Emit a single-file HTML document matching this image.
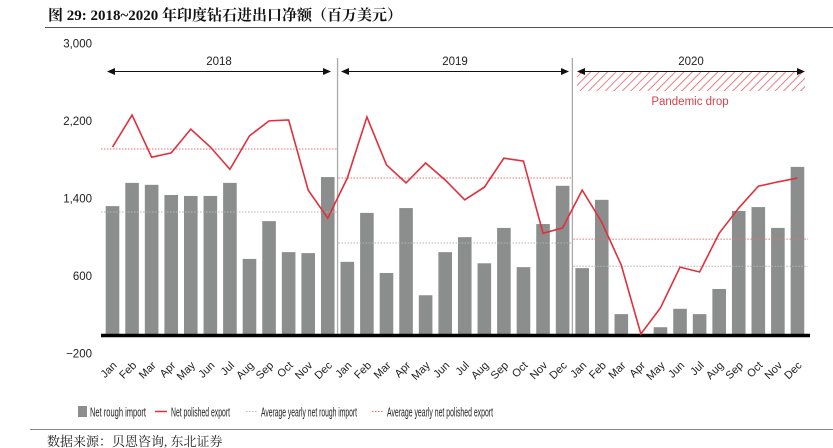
<!DOCTYPE html>
<html><head><meta charset="utf-8"><style>
body{margin:0;background:#fff;width:833px;height:448px;overflow:hidden}
svg{display:block;font-family:"Liberation Sans",Arial,sans-serif}
</style></head><body>
<svg id="c" width="833" height="448" viewBox="0 0 833 448">
<defs><pattern id="hatch" width="6" height="6" patternUnits="userSpaceOnUse" patternTransform="rotate(45)"><line x1="0" y1="0" x2="0" y2="6" stroke="#e3606a" stroke-width="1.6"/></pattern></defs>
<text x="48" y="20" font-family="'Liberation Serif','Noto Serif CJK SC',serif" font-weight="bold" font-size="15" fill="#111">图 29:  2018~2020 年印度钻石进出口净额（百万美元）</text>
<line x1="45" y1="27.5" x2="833" y2="27.5" stroke="#555" stroke-width="1"/>
<g id="plot"></g>
<g font-size="12.5" fill="#222">
<rect x="78" y="406" width="9" height="11" fill="#8c8d8d"/>
<text x="90" y="416.5" textLength="56" lengthAdjust="spacingAndGlyphs">Net rough import</text>
<line x1="155" y1="411.5" x2="167" y2="411.5" stroke="#e0303c" stroke-width="1.5"/>
<text x="171" y="416.5" textLength="59" lengthAdjust="spacingAndGlyphs">Net polished export</text>
<line x1="246" y1="411.5" x2="258" y2="411.5" stroke="#bbb" stroke-dasharray="1.5,1.5"/>
<text x="261" y="416.5" textLength="96" lengthAdjust="spacingAndGlyphs">Average yearly net rough import</text>
<line x1="372" y1="411.5" x2="384" y2="411.5" stroke="#e0606a" stroke-dasharray="1.5,1.5"/>
<text x="387" y="416.5" textLength="106" lengthAdjust="spacingAndGlyphs">Average yearly net polished export</text>
</g>
<line x1="30" y1="429.5" x2="833" y2="429.5" stroke="#888"/>
<text x="47" y="446" font-family="'Liberation Serif','Noto Serif CJK SC',serif" font-size="13" fill="#222">数据来源：贝恩咨询, 东北证券</text>
</svg>
<script>
const months=["Jan","Feb","Mar","Apr","May","Jun","Jul","Aug","Sep","Oct","Nov","Dec"];
const years=["2018","2019","2020"];
const roughImport=[1320,1560,1540,1435,1425,1425,1560,775,1165,845,835,1620,
745,1250,630,1300,400,845,1000,730,1095,690,1135,1530,
680,1385,205,0,70,260,205,465,1270,1310,1095,1725];
const polishedExport=[1930,2260,1825,1870,2115,1930,1700,2045,2200,2210,1485,1195,
1610,2240,1745,1560,1765,1590,1385,1515,1815,1785,1040,1095,
1485,1155,710,0,270,690,640,1040,1300,1525,1570,1610];
const avgRough=[1260,940,700];
const avgPolished=[1910,1610,980];
const yTicks=[-200,600,1400,2200,3000];
const yTickLabels=["\u2212200","600","1,400","2,200","3,000"];

const NS="http://www.w3.org/2000/svg";
const g=document.getElementById('plot');
const y=v=>334-v*(77.5/800);
const x=i=>112.5+i*19.57;
function mk(t,a,p){const e=document.createElementNS(NS,t);for(const k in a)e.setAttribute(k,a[k]);(p||g).appendChild(e);return e;}
yTicks.forEach((t,i)=>{const e=mk('text',{x:92,y:y(t)+4,'text-anchor':'end','font-size':11.5,fill:'#222'});e.textContent=yTickLabels[i];

});
[11.5,23.5].forEach(k=>{const e=mk('line',{x1:x(k),x2:x(k),y1:58,y2:334,stroke:'#aaa','stroke-width':1.3});

});
roughImport.forEach((v,i)=>{const e=mk('rect',{x:x(i)-6.8,width:13.6,y:y(v),height:Math.max(0,334-y(v)),fill:'#8c8d8d'});

});
years.forEach((yr,k)=>{const x1=k==0?101:x(k*12-0.5)+1,x2=k==2?808:x(k*12+11.5)-1;
let e=mk('line',{x1,x2,y1:y(avgRough[k]),y2:y(avgRough[k]),stroke:'#b5b5b5','stroke-dasharray':'1.5,1.5'});


e=mk('line',{x1,x2,y1:y(avgPolished[k]),y2:y(avgPolished[k]),stroke:'#e8707a','stroke-dasharray':'1.5,1.5'});

});
let b=mk('line',{x1:101,x2:810,y1:335.5,y2:335.5,stroke:'#000','stroke-width':3.5});


const pl=mk('polyline',{points:polishedExport.map((v,i)=>x(i)+','+y(v)).join(' '),fill:'none',stroke:'#e0303c','stroke-width':1.6});


polishedExport.forEach((v,i)=>{const e=mk('text',{transform:`translate(${x(i)+5},${366}) rotate(-45)`,'text-anchor':'end','font-size':11,fill:'#222'});e.textContent=months[i%12];

});
const ar=[[107,331],[341,569],[577,805]];
years.forEach((yr,k)=>{const [a,c]=ar[k];
if(k==2){const h=mk('rect',{x:a,y:72,width:c-a,height:19,fill:'url(#hatch)'});

}
let l=mk('line',{x1:a+4,x2:c-4,y1:71.5,y2:71.5,stroke:'#111','stroke-width':1});


mk('path',{d:`M${a},71.5 l8,-3.5 v7z M${c},71.5 l-8,-3.5 v7z`,fill:'#111'});
const t=mk('text',{x:(a+c)/2,y:65,'text-anchor':'middle','font-size':11.5,fill:'#222'});t.textContent=yr;

});
const pd=mk('text',{x:690,y:105,'text-anchor':'middle','font-size':11.5,fill:'#d8404a'});pd.textContent='Pandemic drop';


</script>
</body></html>
